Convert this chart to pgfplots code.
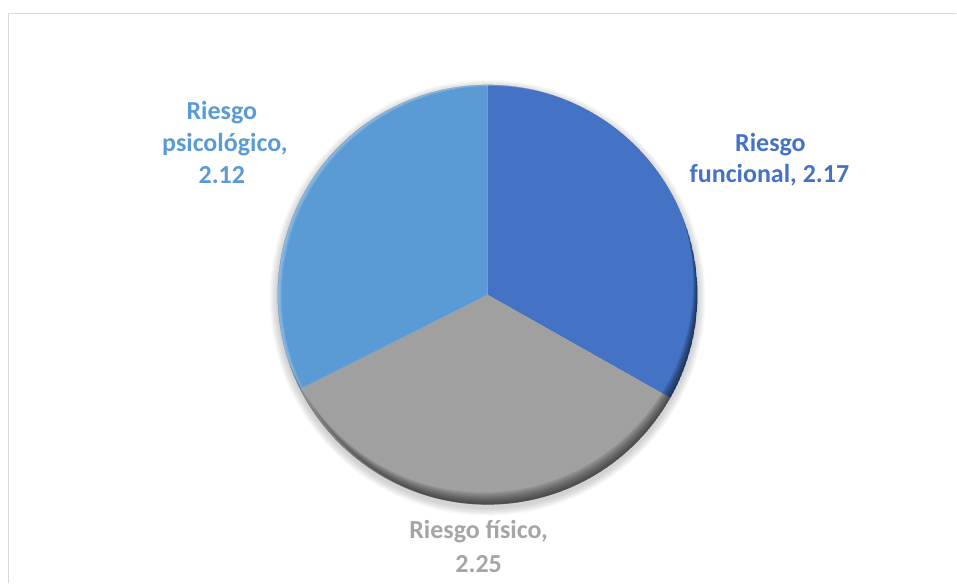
\documentclass[border=0pt]{standalone}
\usepackage{pgfplots}
\usepackage{pgfplotstable}
\pgfplotsset{compat=1.18}
\usepackage{fontspec}
\setmainfont{Carlito}
\definecolor{cFun}{HTML}{4472C4}
\definecolor{cFis}{HTML}{A0A0A0}
\definecolor{cPsi}{HTML}{5B9BD5}
\definecolor{lFis}{HTML}{A5A5A5}
\definecolor{frameC}{HTML}{D9D9D9}
\pgfplotstableread{
label value
funcional 2.17
fisico 2.25
psicologico 2.12
}\piedata
\begin{document}
\begin{tikzpicture}
\pgfplotstablegetelem{0}{value}\of\piedata \let\va\pgfplotsretval
\pgfplotstablegetelem{1}{value}\of\piedata \let\vb\pgfplotsretval
\pgfplotstablegetelem{2}{value}\of\piedata \let\vc\pgfplotsretval
\pgfmathsetmacro\total{\va+\vb+\vc}
\pgfmathsetmacro\aA{90-360*\va/\total}
\pgfmathsetmacro\aB{\aA-360*\vb/\total}
\begin{axis}[
  width=957pt, height=583pt, scale only axis,
  xmin=0, xmax=957, ymin=0, ymax=583,
  axis lines=none, clip=false,
]
% full canvas
\path (axis cs:0,0) rectangle (axis cs:957,583);
% frame
\draw[frameC, line width=1.5pt] (axis cs:957,569.5) -- (axis cs:8.5,569.5) -- (axis cs:8.5,0);
% soft shadow
\pgfplotsinvokeforeach{1,...,8}{
  \fill[black, opacity=0.022] (axis cs:488,285) circle[radius=210+#1];
}
% wedges
\fill[cFun] (axis cs:488,288) -- ++(90:210pt) arc[start angle=90, end angle=\aA, radius=210pt] -- cycle;
\fill[cFis] (axis cs:488,288) -- ++(\aA:210pt) arc[start angle=\aA, end angle=\aB, radius=210pt] -- cycle;
\fill[cPsi] (axis cs:488,288) -- ++(\aB:210pt) arc[start angle=\aB, end angle=-270, radius=210pt] -- cycle;
% bevel
\begin{scope}
\clip (axis cs:488,288) circle[radius=210];
\pgfplotsinvokeforeach{2,4,6,8,10,12}{
  \fill[black, opacity=0.11, even odd rule] (axis cs:488,288) circle[radius=210] (axis cs:488-0.35*#1,288+#1) circle[radius=210];
}
\pgfplotsinvokeforeach{2,3,4}{
  \fill[white, opacity=0.10, even odd rule] (axis cs:488,288) circle[radius=210] (axis cs:488+#1,288-0.3*#1) circle[radius=210];
}
\end{scope}
% labels
\begin{scope}[every node/.style={font=\fontsize{26}{31}\selectfont\bfseries, anchor=base, inner sep=0pt}]
\node[text=cFun] at (axis cs:771,431) {Riesgo};
\node[text=cFun] at (axis cs:770,400) {funcional, 2.17};
\node[text=cPsi] at (axis cs:222,463) {Riesgo};
\node[text=cPsi] at (axis cs:225,431) {psicológico,};
\node[text=cPsi] at (axis cs:222,399) {2.12};
\node[text=lFis] at (axis cs:479,44) {Riesgo físico,};
\node[text=lFis] at (axis cs:479,10) {2.25};
\end{scope}
\end{axis}
\end{tikzpicture}
\end{document}
